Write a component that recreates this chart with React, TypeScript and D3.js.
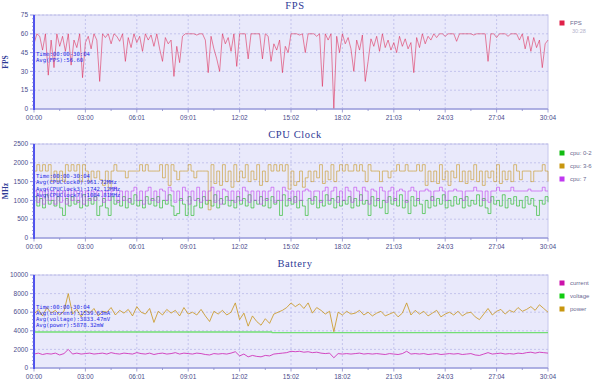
import * as d3 from "d3";

// session length in seconds (00:00 - 30:04)
const DURATION = 1804;
const TIME_LABELS = ["00:00", "03:00", "06:01", "09:01", "12:02", "15:02", "18:02", "21:03", "24:03", "27:04", "30:04"];

// FPS, one sample every ~10 s
const FPS = [
  52, 60, 58, 47, 60, 27, 55, 33, 60, 50,
  58, 46, 60, 35, 55, 49, 60, 25, 53, 58,
  48, 60, 55, 22, 60, 57, 60, 52, 60, 58,
  54, 60, 38, 57, 49, 60, 53, 58, 46, 60,
  55, 59, 50, 60, 48, 38, 57, 52, 55, 26,
  50, 37, 58, 60, 60, 60, 60, 59, 60, 60,
  55, 29, 58, 48, 40, 30, 60, 52, 57, 46,
  60, 34, 60, 60, 60, 40, 60, 60, 60, 60,
  40, 60, 58, 38, 52, 47, 55, 29, 50, 45,
  60, 60, 60, 59, 60, 45, 60, 60, 60, 58,
  60, 18, 60, 55, 60, 0, 58, 45, 60, 52,
  57, 48, 30, 55, 47, 59, 22, 38, 56, 50,
  58, 46, 60, 49, 55, 47, 53, 45, 58, 50,
  56, 48, 53, 29, 57, 49, 60, 52, 58, 55,
  60, 57, 60, 60, 58, 60, 60, 60, 54, 60,
  60, 60, 60, 60, 59, 60, 60, 60, 60, 38,
  60, 60, 57, 60, 60, 60, 58, 60, 60, 60,
  55, 60, 48, 58, 46, 57, 49, 55, 33, 52, 55,
];

// CPU clocks (MHz)
const CPU_0_2 = [
  1100, 850, 1050, 800, 1150, 900, 1000, 850, 1100, 800,
  600, 1050, 850, 1100, 900, 1000, 800, 1150, 850, 1050,
  900, 1100, 600, 850, 1050, 800, 600, 1100, 900, 1000,
  850, 1100, 800, 1050, 900, 1150, 850, 1000, 800, 1100,
  900, 1050, 850, 1100, 800, 1000, 900, 1150, 850, 600,
  650, 1050, 900, 600, 1100, 600, 850, 1050, 800, 1100,
  900, 1000, 850, 1150, 800, 1050, 900, 1100, 850, 1000,
  800, 1100, 900, 1050, 850, 1150, 800, 1000, 900, 1100,
  850, 1050, 800, 1100, 900, 1000, 600, 1150, 850, 1050,
  900, 1100, 800, 1000, 850, 600, 1050, 900, 1100, 800,
  1000, 850, 1150, 900, 1050, 800, 1100, 850, 1000, 900,
  1100, 800, 1050, 850, 1150, 900, 1000, 600, 1100, 850,
  1050, 800, 1000, 650, 1100, 900, 1050, 850, 1150, 800,
  1000, 650, 1100, 850, 1050, 900, 650, 1000, 800, 1100,
  850, 1050, 900, 1150, 800, 1000, 850, 1100, 900, 1050,
  800, 1100, 850, 1000, 900, 1150, 850, 1050, 800, 650,
  1100, 900, 1000, 850, 1150, 800, 1050, 900, 1100, 850,
  1000, 800, 1100, 900, 1050, 850, 600, 1000, 900, 1100, 950,
];
const CPU_3_6 = [
  1780, 1950, 1780, 1950, 1780, 1950, 1500, 1780, 1500, 1780,
  1500, 1950, 1780, 1950, 1780, 1950, 1500, 1950, 1780, 1500,
  1780, 1600, 1780, 1550, 1400, 1780, 1300, 1780, 1950, 1780,
  1780, 1780, 1600, 1780, 1780, 1780, 1780, 1950, 1780, 1950,
  1780, 1780, 1780, 1780, 1950, 1600, 1950, 1400, 1950, 1780,
  1550, 1780, 1780, 1780, 1950, 1780, 1600, 1780, 1780, 1780,
  1780, 750, 1950, 1450, 1780, 1400, 1950, 1500, 1780, 1350,
  1950, 1500, 1780, 1600, 1950, 1500, 1780, 1550, 1950, 1400,
  1780, 1500, 1950, 1780, 1950, 1780, 1950, 1780, 1950, 1300,
  1780, 1400, 1500, 1780, 1350, 1600, 1780, 1500, 1780, 1600,
  1950, 1450, 1780, 1550, 1950, 1500, 1780, 1950, 1780, 1950,
  1780, 1780, 1950, 1780, 1950, 1780, 1500, 1950, 1780, 1780,
  1780, 1500, 1780, 1780, 1600, 1780, 1780, 1950, 1780, 1780,
  1950, 1780, 1780, 1780, 1950, 1780, 1950, 1400, 1780, 1500,
  1780, 1450, 1950, 1550, 1780, 1400, 1780, 1600, 1950, 1500,
  1780, 1450, 1780, 1550, 1950, 1500, 1780, 1400, 1780, 1600,
  1780, 1500, 1950, 1450, 1780, 1550, 1780, 1500, 1950, 1780,
  1550, 1780, 1780, 1780, 1500, 1780, 1780, 1780, 1950, 1780, 1500,
];
const CPU_7 = [
  1250, 950, 1250, 900, 1300, 1000, 1250, 900, 1250, 950,
  1250, 900, 1300, 1000, 1250, 950, 1250, 900, 1250, 1000,
  1250, 1000, 1250, 1250, 950, 1250, 1000, 1250, 1350, 950,
  1250, 1000, 1250, 950, 1250, 1350, 1000, 1250, 900, 1250,
  1350, 1000, 1250, 950, 1300, 1250, 1000, 1350, 1250, 950,
  1250, 1000, 1350, 1250, 900, 1250, 1000, 1350, 950, 1250,
  1000, 1250, 1350, 950, 1250, 900, 1300, 1250, 1000, 1250,
  950, 1250, 1000, 1350, 1250, 950, 1250, 1000, 1250, 900,
  1250, 1000, 1250, 1350, 950, 1250, 1000, 1350, 1250, 1000,
  1250, 950, 1250, 1000, 1250, 1300, 1250, 1000, 1250, 1250,
  950, 1250, 1350, 1000, 1250, 1350, 950, 1250, 1000, 1350,
  1250, 950, 1350, 1250, 1000, 1350, 1250, 900, 1300, 1250,
  1000, 1350, 1250, 950, 1250, 1350, 1000, 1250, 1300, 1250,
  950, 1250, 1350, 1250, 1000, 1250, 1250, 1300, 1250, 1000,
  1250, 1250, 1350, 1250, 1000, 1250, 1250, 1300, 1250, 1250,
  1000, 1250, 1250, 1250, 1350, 1250, 1250, 1000, 1250, 950,
  1250, 1250, 1350, 1250, 1250, 1250, 1250, 1350, 1250, 1250,
  1250, 1250, 1250, 1300, 1250, 1250, 1250, 1250, 1350, 1250, 1250,
];

// battery, one sample every ~15 s
const POWER = [
  5800, 6300, 5600, 6500, 5900, 6200, 5700, 6100, 8000, 5800,
  6300, 5500, 6200, 5900, 6400, 5600, 6100, 6000, 6500, 5700,
  6200, 5900, 6300, 5600, 6600, 6000, 5800, 6400, 4900, 6100,
  5700, 6300, 5900, 6200, 5600, 6500, 5800, 6000, 5700, 6300,
  5600, 5000, 6100, 5800, 6200, 5700, 6000, 7000, 5200, 5900,
  4500, 5600, 5000, 4600, 5300, 4800, 5800, 6000, 6200, 6500,
  7000, 6600, 6900, 6400, 7000, 5900, 6500, 6200, 5800, 6100,
  3900, 6000, 5700, 6100, 5800, 5900, 6200, 5700, 6000, 5600,
  5900, 6100, 5600, 5800, 6000, 5500, 5900, 7000, 5700, 6200,
  5800, 6100, 5600, 5900, 6200, 5500, 5800, 6000, 5700, 6100,
  5600, 5900, 6000, 5500, 5200, 5800, 6400, 5700, 6100, 6300,
  5800, 6200, 6000, 6500, 6100, 6300, 6600, 6200, 6800, 6400, 6000,
];
const CURRENT = [
  1500, 1600, 1450, 1550, 1500, 1600, 1400, 1550, 2000, 1500,
  1600, 1500, 1550, 1600, 1500, 1550, 1600, 1500, 1650, 1550,
  1500, 1600, 1550, 1500, 1650, 1550, 1500, 1600, 1450, 1550,
  1600, 1500, 1550, 1650, 1500, 1600, 1550, 1500, 1600, 1550,
  1450, 1400, 1550, 1500, 1550, 1500, 1600, 1750, 1300, 1500,
  1200, 1350, 1250, 1200, 1350, 1300, 1500, 1550, 1600, 1650,
  1800, 1750, 1800, 1700, 1750, 1650, 1700, 1600, 1550, 1600,
  1100, 1550, 1500, 1550, 1500, 1550, 1600, 1500, 1550, 1500,
  1550, 1500, 1450, 1550, 1500, 1450, 1550, 1800, 1500, 1550,
  1500, 1550, 1450, 1500, 1550, 1450, 1500, 1550, 1500, 1550,
  1450, 1500, 1550, 1400, 1350, 1500, 1650, 1500, 1550, 1600,
  1500, 1550, 1500, 1600, 1550, 1650, 1700, 1600, 1700, 1650, 1600,
];
const VOLTAGE_T = [0, 834, 836, 1804];
const VOLTAGE = [3870, 3870, 3800, 3800];

const X_LEFT = 34;
const X_RIGHT = 548;
const x = d3.scaleLinear().domain([0, DURATION]).range([X_LEFT, X_RIGHT]);
const tickTimes = TIME_LABELS.map((_, i) => (i * DURATION) / 10);
const minorTimes = d3.range(21).map((i) => (i * DURATION) / 20);

const MONO = "'DejaVu Sans Mono', monospace";
const SANS = "'Liberation Sans', Arial, sans-serif";
const SERIF = "'Liberation Serif', 'Times New Roman', serif";

type Series = { t: number[]; v: number[]; color: string; width?: number; opacity?: number; step?: boolean };

const evenTimes = (n: number) => d3.range(n).map((i) => (i * DURATION) / (n - 1));

function Panel({ top, bottom, max, step, title, titleY, yLabel, series, notes, noteY, noteStep, legend, legendY }: any) {
  const y = d3.scaleLinear().domain([0, max]).range([bottom, top]);
  const majors = d3.range(0, max + 1, step);
  const minors = d3.range(0, max + 1, step / 5);
  return (
    <g>
      <text x={295} y={titleY} textAnchor="middle" fontFamily={SERIF} fontSize={10.5} fill="#2e3a96" letterSpacing={0.6}>
        {title}
      </text>
      <rect x={X_LEFT} y={top} width={X_RIGHT - X_LEFT} height={bottom - top} fill="#e9e9fb" stroke="#c6c6ec" strokeWidth={1} />
      {majors.slice(1).map((m) => (
        <line key={"hg" + m} x1={X_LEFT} x2={X_RIGHT} y1={y(m)} y2={y(m)} stroke="#b4b4e6" strokeWidth={0.7} strokeDasharray="2,2" />
      ))}
      {tickTimes.slice(1, -1).map((t) => (
        <line key={"vg" + t} x1={x(t)} x2={x(t)} y1={top} y2={bottom} stroke="#b4b4e6" strokeWidth={0.7} strokeDasharray="2,2" />
      ))}
      {series.map((s: Series, i: number) => {
        const line = d3
          .line<number>()
          .x((_, j) => x(s.t[j]))
          .y((d) => y(d))
          .curve(s.step ? d3.curveStepAfter : d3.curveLinear);
        return (
          <path key={i} d={line(s.v) || ""} fill="none" stroke={s.color} strokeWidth={s.width ?? 0.8} strokeOpacity={s.opacity ?? 0.9} />
        );
      })}
      {/* bottom axis */}
      <line x1={X_LEFT} x2={X_RIGHT} y1={bottom} y2={bottom} stroke="#9ea0dc" strokeWidth={1.6} />
      {minorTimes.map((t, i) => (
        <line key={"xt" + i} x1={x(t)} x2={x(t)} y1={bottom} y2={bottom + (i % 2 === 0 ? 3.5 : 2)} stroke="#8a8ccc" strokeWidth={0.8} />
      ))}
      {TIME_LABELS.map((l, i) => (
        <text key={"xl" + i} x={x(tickTimes[i])} y={bottom + 11} textAnchor="middle" fontFamily={SANS} fontSize={6.5} fill="#4a4c8c">
          {l}
        </text>
      ))}
      {/* left axis */}
      <line x1={X_LEFT} x2={X_LEFT} y1={top} y2={bottom + 1} stroke="#4f52ee" strokeWidth={2} />
      {minors.map((m, i) => (
        <line key={"yt" + i} x1={X_LEFT - (i % 5 === 0 ? 4 : 2)} x2={X_LEFT} y1={y(m)} y2={y(m)} stroke="#6a6cd6" strokeWidth={0.7} />
      ))}
      {majors.map((m) => (
        <text key={"yl" + m} x={28} y={y(m) + 2.2} textAnchor="end" fontFamily={SANS} fontSize={6.5} fill="#4a4c8c">
          {m}
        </text>
      ))}
      {yLabel && (
        <text transform={`translate(8,${(top + bottom) / 2}) rotate(-90)`} textAnchor="middle" fontFamily={SERIF} fontWeight="bold" fontSize={7.5} fill="#2e3a96">
          {yLabel}
        </text>
      )}
      {notes.map((n: string, i: number) => (
        <text key={"n" + i} x={36} y={noteY + i * noteStep} fontFamily={MONO} fontSize={5.6} fill="#1f2be6">
          {n}
        </text>
      ))}
      {legend.map((l: any, i: number) => (
        <g key={"lg" + i}>
          <rect x={559.5} y={legendY + i * 13 - 2.5} width={5} height={5} fill={l.color} />
          <text x={570} y={legendY + i * 13 + 2} fontFamily={SANS} fontSize={6} fill="#6a6a92">
            {l.name}
          </text>
        </g>
      ))}
    </g>
  );
}

export default function App() {
  return (
    <svg width={600} height={384} style={{ position: "fixed", left: 0, top: 0, background: "#fff" }}>
      <Panel
        top={15}
        bottom={109}
        max={75}
        step={15}
        title="FPS"
        titleY={9}
        yLabel="FPS"
        series={[{ t: evenTimes(FPS.length), v: FPS, color: "#dc2450", width: 0.7, opacity: 0.8 }]}
        notes={["Time:00:00-30:04", "Avg(FPS):56.60"]}
        noteY={56.3}
        noteStep={6}
        legend={[{ name: "FPS", color: "#e02048" }]}
        legendY={23}
      />
      <text x={572} y={33} fontFamily={SANS} fontSize={5.5} fill="#b4b4cc">30:28</text>
      <Panel
        top={144}
        bottom={238}
        max={2500}
        step={500}
        title="CPU Clock"
        titleY={138}
        yLabel="MHz"
        series={[
          { t: evenTimes(CPU_0_2.length), v: CPU_0_2, color: "#22bb22", width: 0.7, step: true },
          { t: evenTimes(CPU_3_6.length), v: CPU_3_6, color: "#c8961e", width: 0.7, opacity: 0.85, step: true },
          { t: evenTimes(CPU_7.length), v: CPU_7, color: "#c03cf0", width: 0.7, opacity: 0.85, step: true },
        ]}
        notes={["Time:00:00-30:04", "Avg(CPUClock0):961.72MHz", "Avg(CPUClock3):1742.12MHz", "Avg(CPUClock7):1084.81MHz"]}
        noteY={178}
        noteStep={6.3}
        legend={[
          { name: "cpu: 0-2", color: "#11bb11" },
          { name: "cpu: 3-6", color: "#c8960e" },
          { name: "cpu: 7", color: "#c038f0" },
        ]}
        legendY={153}
      />
      <Panel
        top={275}
        bottom={368}
        max={10000}
        step={2000}
        title="Battery"
        titleY={267}
        series={[
          { t: evenTimes(CURRENT.length), v: CURRENT, color: "#cc22b4", width: 0.9 },
          { t: VOLTAGE_T, v: VOLTAGE, color: "#66dd66", width: 1.4 },
          { t: evenTimes(POWER.length), v: POWER, color: "#c8961e", width: 0.9 },
        ]}
        notes={["Time:00:00-30:04", "Avg(current):1539.63mA", "Avg(voltage):3833.47mV", "Avg(power):5878.32mW"]}
        noteY={309}
        noteStep={6}
        legend={[
          { name: "current", color: "#cc11aa" },
          { name: "voltage", color: "#11cc11" },
          { name: "power", color: "#c8960e" },
        ]}
        legendY={283}
      />
    </svg>
  );
}
